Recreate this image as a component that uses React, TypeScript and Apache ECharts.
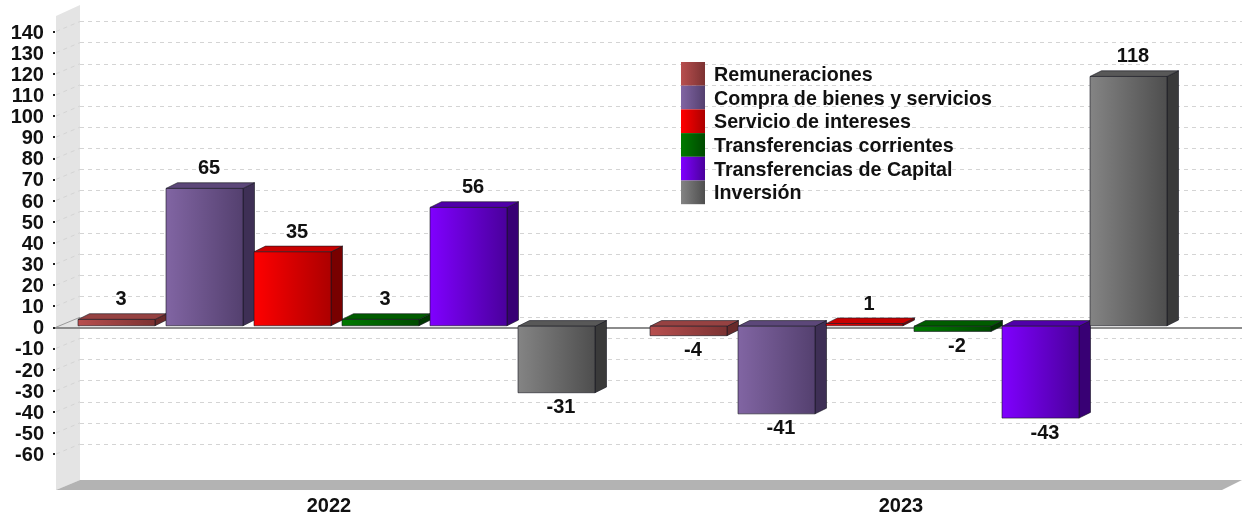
import React, { useEffect, useRef } from "react";
import * as echarts from "echarts";

const years = ["2022", "2023"];
const remuneraciones = [3, -4];
const compra = [65, -41];
const servicio = [35, 1];
const corrientes = [3, -2];
const capital = [56, -43];
const inversion = [-31, 118];
const wallTicks = [140, 130, 120, 110, 100, 90, 80, 70, 60, 50, 40, 30, 20, 10, 0, -10, -20, -30, -40, -50, -60];

const FONT = '"Liberation Sans", Arial, sans-serif';
const TEXT = "#111111";
const FACE_W = 77;
const PITCH = 88;
const GROUP_SHIFT = 7.5;
const DEPTH_X = 11.5;
const DEPTH_Y = 5.7;

const palettes = [
  { name: "Remuneraciones", values: remuneraciones, light: "#b84f4f", dark: "#7c3232", top: "#964242", side: "#682a2a" },
  { name: "Compra de bienes y servicios", values: compra, light: "#8165a3", dark: "#54406f", top: "#5c4779", side: "#3e2f55" },
  { name: "Servicio de intereses", values: servicio, light: "#ff0000", dark: "#ac0000", top: "#c80000", side: "#780000" },
  { name: "Transferencias corrientes", values: corrientes, light: "#007a00", dark: "#004a00", top: "#005c00", side: "#003600" },
  { name: "Transferencias de Capital", values: capital, light: "#8000ff", dark: "#4a009c", top: "#5000a8", side: "#380074" },
  { name: "Inversión", values: inversion, light: "#848484", dark: "#4e4e4e", top: "#585858", side: "#3a3a3a" },
];

const gradient = (a: string, b: string) =>
  new echarts.graphic.LinearGradient(0, 0, 1, 0, [
    { offset: 0, color: a },
    { offset: 1, color: b },
  ]);

function barSeries(p: (typeof palettes)[number], index: number) {
  return {
    type: "custom",
    name: p.name,
    xAxisIndex: 0,
    yAxisIndex: 0,
    clip: false,
    itemStyle: { color: gradient(p.light, p.dark) },
    encode: { x: 0, y: 1 },
    data: p.values.map((v, i) => [i, v]),
    renderItem: (_: any, api: any) => {
      const cat = api.value(0);
      const v = api.value(1);
      const cx = api.coord([cat, 0])[0] + GROUP_SHIFT + (index - 2.5) * PITCH;
      const zero = api.coord([cat, 0])[1];
      const yv = api.coord([cat, v])[1];
      // positive bars stand just above the zero line, negative bars hang from it
      const top = v > 0 ? yv - 1.5 : zero - 1;
      const bottom = v > 0 ? zero - 1.5 : yv;
      const l = cx - FACE_W / 2;
      const r = cx + FACE_W / 2;
      const edge = { stroke: "rgba(20,20,30,0.6)", lineWidth: 1, lineJoin: "round" };
      return {
        type: "group",
        children: [
          {
            type: "polygon",
            shape: { points: [[r, top], [r + DEPTH_X, top - DEPTH_Y], [r + DEPTH_X, bottom - DEPTH_Y], [r, bottom]] },
            style: { fill: p.side, ...edge },
          },
          {
            type: "polygon",
            shape: { points: [[l, top], [l + DEPTH_X, top - DEPTH_Y], [r + DEPTH_X, top - DEPTH_Y], [r, top]] },
            style: { fill: p.top, ...edge },
          },
          {
            type: "rect",
            shape: { x: l, y: top, width: FACE_W, height: bottom - top },
            style: { fill: gradient(p.light, p.dark), ...edge },
          },
          {
            type: "text",
            style: {
              x: cx + 4.5,
              y: v >= 0 ? top - 21 : bottom + 13.5,
              text: String(v),
              align: "center",
              verticalAlign: "middle",
              font: `bold 20px ${FONT}`,
              fill: TEXT,
            },
          },
        ],
      };
    },
  };
}

const frameSeries = {
  type: "custom",
  name: "frame",
  xAxisIndex: 0,
  yAxisIndex: 0,
  clip: false,
  silent: true,
  z: 1,
  encode: { y: 0 },
  data: wallTicks.map((t) => [t]),
  renderItem: (_: any, api: any) => {
    const t = api.value(0);
    const y = api.coord([0, t])[1];
    const children: any[] = [
      {
        type: "line",
        shape: { x1: 56, y1: y, x2: 80, y2: y - 10 },
        style: { stroke: t === 0 ? "#9a9a9a" : "#d4d4d4", lineWidth: 1, lineDash: t === 0 ? undefined : [4, 4] },
      },
    ];
    if (t === 0) {
      children.push({
        type: "line",
        shape: { x1: 55, y1: y + 0.7, x2: 1242, y2: y + 0.7 },
        style: { stroke: "#8c8c8c", lineWidth: 2 },
      });
    }
    return { type: "group", children };
  },
};

export default function App() {
  const ref = useRef<HTMLDivElement>(null);
  useEffect(() => {
    if (!ref.current) return;
    const chart = echarts.init(ref.current, undefined, { renderer: "svg" });
    chart.setOption({
      animation: false,
      backgroundColor: "#ffffff",
      textStyle: { fontFamily: FONT },
      graphic: [
        {
          type: "polygon",
          z: -10,
          shape: { points: [[56, 16], [80, 5], [80, 480], [56, 490]] },
          style: { fill: "#e4e4e4" },
        },
        {
          type: "polygon",
          z: -10,
          shape: { points: [[80, 480], [1242, 480], [1222, 490], [56, 490]] },
          style: { fill: "#b3b3b3" },
        },
      ],
      legend: {
        show: true,
        orient: "vertical",
        left: 681,
        top: 62,
        padding: 0,
        itemGap: 0,
        itemWidth: 24,
        itemHeight: 23.7,
        selectedMode: false,
        icon: "rect",
        data: palettes.map((p) => p.name),
        textStyle: { fontFamily: FONT, fontSize: 19.7, fontWeight: "bold", color: TEXT, padding: [0, 0, 0, 4] },
      },
      grid: [
        { left: 43, width: 1144, top: 31.5, height: 422.5 },
        { left: 80, right: 0, top: 21.5, height: 422.5 },
      ],
      xAxis: [
        {
          type: "category",
          gridIndex: 0,
          data: years,
          axisLine: { show: false },
          axisTick: { show: false },
          axisLabel: { margin: 41, fontFamily: FONT, fontSize: 20, fontWeight: "bold", color: TEXT },
        },
        { type: "value", gridIndex: 1, min: 0, max: 1, show: false },
      ],
      yAxis: [
        {
          type: "value",
          gridIndex: 0,
          min: -60,
          max: 140,
          interval: 10,
          offset: -12,
          axisLine: { show: false },
          axisTick: { show: true, length: 2, lineStyle: { color: "#222", width: 2 } },
          splitLine: { show: false },
          axisLabel: { margin: 11, fontFamily: FONT, fontSize: 20, fontWeight: "bold", color: TEXT },
        },
        {
          type: "value",
          gridIndex: 1,
          min: -60,
          max: 140,
          interval: 10,
          axisLine: { show: false },
          axisTick: { show: false },
          axisLabel: { show: false },
          splitLine: { show: true, lineStyle: { color: "#d4d4d4", type: [4, 4], width: 1 } },
        },
      ],
      series: [frameSeries, ...palettes.map(barSeries)],
    });
    return () => chart.dispose();
  }, []);
  return (
    <div
      ref={ref}
      style={{ position: "fixed", left: 0, top: 0, width: 1242, height: 516, filter: "blur(0.5px)" }}
    />
  );
}
